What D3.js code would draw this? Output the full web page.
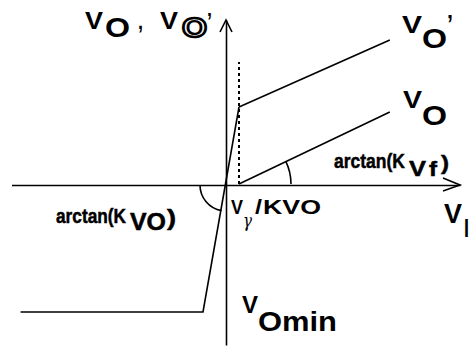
<!DOCTYPE html>
<html><head><meta charset="utf-8">
<script src="https://cdn.jsdelivr.net/npm/d3@7"></script>
<style>html,body{margin:0;padding:0;background:#fff;} svg{display:block;}</style>
</head><body>
<svg id="chart" width="473" height="349"></svg>
<script>
// Plotted input range (units of Vγ/KVO) and output range
const viDomain = [-16.5, 18];
const voDomain = [-16, 16.5];

// Steep segment: saturated level V_Omin, then rising through the origin to the knee
const kneeVi = [-15.8, -1.77, 1.0];
const kneeVo = [-12.7, -12.7, 7.8];
// V_O' branch above the knee
const voPrimeVi = [1.0, 12.6];
const voPrimeVo = [7.8, 14.5];
// V_O branch starting at the threshold
const voVi = [1.0, 12.6];
const voVo = [0.1, 7.3];
// Threshold marker at Vγ/KVO
const thresholdVi = 1.0;
const thresholdVo = [0.1, 12.3];

const svg = d3.select("#chart");
const x = d3.scaleLinear().domain(viDomain).range([11.5, 460]);
const y = d3.scaleLinear().domain(voDomain).range([345, 20]);

const ink = "#000";
const lw = 1.6;

// Axes without ticks, crossing at the origin
svg.append("g").attr("transform", `translate(0,${y(0)})`)
  .call(d3.axisBottom(x).tickValues([]).tickSizeOuter(0))
  .call(g => g.select(".domain").attr("stroke", ink).attr("stroke-width", lw));
svg.append("g").attr("transform", `translate(${x(0)},0)`)
  .call(d3.axisLeft(y).tickValues([]).tickSizeOuter(0))
  .call(g => g.select(".domain").attr("stroke", ink).attr("stroke-width", lw));

// Open arrowheads at the positive ends
const xe = x(viDomain[1]), ye = y(voDomain[1]), x0 = x(0), y0 = y(0);
svg.append("path")
  .attr("d", `M${xe - 17},${y0 - 7}L${xe},${y0}L${xe - 17},${y0 + 6}`)
  .attr("fill", "none").attr("stroke", ink).attr("stroke-width", lw);
svg.append("path")
  .attr("d", `M${x0 - 6},${ye + 12}L${x0},${ye}L${x0 + 6},${ye + 12}`)
  .attr("fill", "none").attr("stroke", ink).attr("stroke-width", lw);

const line = d3.line().x(d => x(d[0])).y(d => y(d[1]));
const series = [
  d3.zip(kneeVi, kneeVo),
  d3.zip(voPrimeVi, voPrimeVo),
  d3.zip(voVi, voVo)
];
svg.selectAll("path.curve").data(series).join("path")
  .attr("class", "curve")
  .attr("d", line)
  .attr("fill", "none").attr("stroke", ink).attr("stroke-width", lw)
  .attr("stroke-linejoin", "miter");

// Dotted threshold marker
svg.append("path")
  .attr("d", line(thresholdVo.map(v => [thresholdVi, v])))
  .attr("fill", "none").attr("stroke", ink).attr("stroke-width", 2)
  .attr("stroke-dasharray", "3,3");

// Angle arcs: slope of V_O branch and slope of the steep segment
const angleTo = (cx, cy, px, py) => Math.atan2(px - cx, -(py - cy));
const rc = [x(voVi[0]), y(voVo[0])];
const aVo = angleTo(rc[0], rc[1], x(voVi[1]), y(voVo[1]));
svg.append("path")
  .attr("transform", `translate(${rc[0]},${rc[1]})`)
  .attr("d", d3.arc()({innerRadius: 52, outerRadius: 52, startAngle: aVo, endAngle: Math.PI / 2}))
  .attr("fill", "none").attr("stroke", ink).attr("stroke-width", lw);

let aK = angleTo(x(kneeVi[2]), y(kneeVo[2]), x(kneeVi[1]), y(kneeVo[1]));
if (aK < 0) aK += 2 * Math.PI;
svg.append("path")
  .attr("transform", `translate(${x0},${y0})`)
  .attr("d", d3.arc()({innerRadius: 26, outerRadius: 26, startAngle: aK, endAngle: 1.5 * Math.PI}))
  .attr("fill", "none").attr("stroke", ink).attr("stroke-width", lw);

// Text labels: [text, x, baseline, size, width, style]
const sans = "'Liberation Sans', Arial, Helvetica, sans-serif";
const labels = [
  ["V", 85, 28.5, 24, 18], ["O", 105, 37, 27, 25], [",", 138, 29, 22, 5],
  ["V", 160, 28.5, 24, 18], ["O", 182, 37, 27, 25, "hollow"], ["’", 207, 30, 24, 5],
  ["V", 402, 32.5, 24, 20], ["O", 422, 48, 28, 25], ["’", 447, 33, 26, 6],
  ["V", 403, 107.5, 24, 19], ["O", 422, 124.5, 28, 25],
  ["arctan(K", 334, 168, 21, 71, "heavy"], ["V", 409, 175.5, 22, 17, "heavy"],
  ["f", 429, 175.5, 21, 8, "heavy"], [")", 441, 170, 21, 8, "heavy"],
  ["arctan(K", 56, 223, 21, 70, "heavy"], ["VO", 130, 229.5, 23, 36, "heavy"], [")", 167, 225, 22, 9, "heavy"],
  ["V", 231, 213.5, 20, 12], ["γ", 243, 227, 18, 9, "greek"], ["/", 255, 213.5, 20, 7], ["KVO", 263, 213.5, 20, 58],
  ["V", 444, 222.5, 28, 18], ["I", 464, 237, 26, 5],
  ["V", 242, 312.5, 23, 16], ["Omin", 258, 330.5, 27, 79]
];
const stroked = d => d[5] === "hollow" || d[5] === "heavy";
svg.selectAll("text.lbl").data(labels).join("text")
  .attr("class", "lbl")
  .attr("x", d => d[1]).attr("y", d => d[2])
  .attr("font-size", d => d[3])
  .attr("font-family", d => d[5] === "greek" ? "'DejaVu Serif', 'Liberation Serif', serif" : sans)
  .attr("font-style", d => d[5] === "greek" ? "italic" : "normal")
  .attr("font-weight", d => d[5] === "greek" ? "normal" : "bold")
  .attr("textLength", d => d[4])
  .attr("lengthAdjust", "spacingAndGlyphs")
  .attr("fill", d => d[5] === "hollow" ? "#fff" : ink)
  .attr("stroke", d => stroked(d) ? ink : "none")
  .attr("stroke-width", d => d[5] === "hollow" ? 2.4 : d[5] === "heavy" ? 0.5 : 0)
  .text(d => d[0]);
</script>
</body></html>
